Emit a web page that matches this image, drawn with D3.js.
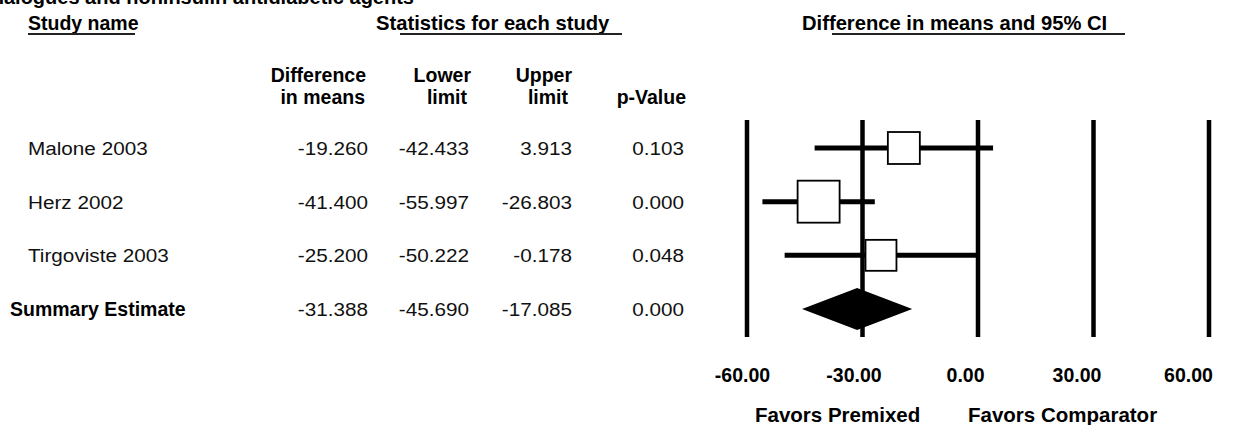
<!DOCTYPE html>
<html>
<head>
<meta charset="utf-8">
<script src="https://cdn.jsdelivr.net/npm/d3@7"></script>
<style>
  html, body { margin: 0; padding: 0; background: #fff; }
  svg { display: block; }
  text { font-family: "Liberation Sans", Arial, Helvetica, sans-serif; fill: #111; }
</style>
</head>
<body>
<svg id="chart" width="1241" height="425"></svg>
<script>
// ---- Data ----
const studies     = ["Malone 2003", "Herz 2002", "Tirgoviste 2003"];
const summaryName = "Summary Estimate";
const estimates   = [-19.260, -41.400, -25.200];
const lowers      = [-42.433, -55.997, -50.222];
const uppers      = [3.913, -26.803, -0.178];
const pValues     = [0.103, 0.000, 0.048];
const weights     = [27.3, 47.1, 25.6];       // relative weights (square areas), estimated
const summaryVals = { est: -31.388, lo: -45.690, hi: -17.085, p: 0.000 };
const tickValues  = [-60, -30, 0, 30, 60];
const colHeads    = [["Difference", "in means"], ["Lower", "limit"], ["Upper", "limit"], ["", "p-Value"]];

// ---- Setup ----
const svg = d3.select("#chart");
const hy = f => (v => f(v).replace("\u2212", "-"));
const fmt3 = hy(d3.format(".3f"));
const fmt2 = hy(d3.format(".2f"));
const SX = 1.09; // horizontal stretch of regular text

const rows = studies.concat([summaryName]);
const y = d3.scalePoint().domain(rows).range([148, 309]);
const x = d3.scaleLinear().domain([-60, 60]).range([747, 1209]);
const xLabel = d3.scaleLinear().domain([-60, 60]).range([742, 1188]);
const size = d3.scaleSqrt().domain([0, d3.max(weights)]).range([0, 42]);

function reg(g, str, px, py, anchor) {
  return g.append("text")
    .attr("transform", `translate(${px},${py}) scale(${SX},1)`)
    .attr("text-anchor", anchor || "start")
    .style("font-size", "19px")
    .text(str);
}
function bold(g, str, px, py, anchor, fs) {
  return g.append("text")
    .attr("x", px).attr("y", py)
    .attr("text-anchor", anchor || "start")
    .style("font-size", (fs || 19.5) + "px")
    .style("font-weight", "bold")
    .style("fill", "#000")
    .text(str);
}

// ---- Title fragment (cut off at top, as in the source image) ----
bold(svg, "Premixed insulin analogues and noninsulin antidiabetic agents", 414, 4, "end", 20);

// ---- Section headers ----
const hdr = svg.append("g");
bold(hdr, "Study name", 28, 30, "start", 19.5);
bold(hdr, "Statistics for each study", 376, 30, "start", 20.2);
bold(hdr, "Difference in means and 95% CI", 802, 30, "start", 20.2);
const underlines = [[28, 135], [400, 622], [832, 1125]];
hdr.selectAll("line.ul").data(underlines).join("line")
  .attr("class", "ul")
  .attr("x1", d => d[0]).attr("x2", d => d[1])
  .attr("y1", 34).attr("y2", 34)
  .attr("stroke", "#222").attr("stroke-width", 2);

// ---- Column headers ----
const colX = [366, 471, 572, 686];
colHeads.forEach((h, i) => {
  if (h[0]) bold(hdr, h[0], colX[i], 82, "end", 19.5);
  bold(hdr, h[1], colX[i] - (i === 0 ? 1 : i === 3 ? 0 : 4), 104, "end", 19.5);
});

// ---- Table rows ----
const valX = [368, 469, 572, 684];
const tbl = svg.append("g");
studies.forEach((s, i) => {
  const by = y(s) + 7;
  reg(tbl, s, 28, by);
  reg(tbl, fmt3(estimates[i]), valX[0], by, "end");
  reg(tbl, fmt3(lowers[i]), valX[1], by, "end");
  reg(tbl, fmt3(uppers[i]), valX[2], by, "end");
  reg(tbl, fmt3(pValues[i]), valX[3], by, "end");
});
{
  const by = y(summaryName) + 7;
  bold(tbl, summaryName, 10, by, "start", 19.5);
  reg(tbl, fmt3(summaryVals.est), valX[0], by, "end");
  reg(tbl, fmt3(summaryVals.lo), valX[1], by, "end");
  reg(tbl, fmt3(summaryVals.hi), valX[2], by, "end");
  reg(tbl, fmt3(summaryVals.p), valX[3], by, "end");
}

// ---- Forest plot ----
const plot = svg.append("g");
plot.selectAll("line.grid").data(tickValues).join("line")
  .attr("class", "grid")
  .attr("x1", d => x(d)).attr("x2", d => x(d))
  .attr("y1", 120).attr("y2", 337)
  .attr("stroke", "#000").attr("stroke-width", 4.5);

const studyData = studies.map((s, i) => ({ name: s, est: estimates[i], lo: lowers[i], hi: uppers[i], w: weights[i] }));

plot.selectAll("line.ci").data(studyData).join("line")
  .attr("class", "ci")
  .attr("x1", d => x(d.lo)).attr("x2", d => x(d.hi))
  .attr("y1", d => y(d.name)).attr("y2", d => y(d.name))
  .attr("stroke", "#000").attr("stroke-width", 5);

plot.selectAll("rect.pt").data(studyData).join("rect")
  .attr("class", "pt")
  .attr("x", d => x(d.est) - size(d.w) / 2)
  .attr("y", d => y(d.name) - size(d.w) / 2)
  .attr("width", d => size(d.w))
  .attr("height", d => size(d.w))
  .attr("fill", "#fff").attr("stroke", "#000").attr("stroke-width", 1.8);

const sy = y(summaryName);
plot.append("path")
  .attr("d", `M${x(summaryVals.lo)},${sy} L${x(summaryVals.est)},${sy - 21} L${x(summaryVals.hi)},${sy} L${x(summaryVals.est)},${sy + 21} Z`)
  .attr("fill", "#000");

// ---- Axis labels ----
const axis = d3.axisBottom(xLabel).tickValues(tickValues).tickSize(0).tickPadding(0).tickFormat(fmt2);
const ag = svg.append("g").attr("transform", "translate(0,368)").call(axis);
ag.select(".domain").remove();
ag.selectAll("text")
  .attr("y", 0).attr("dy", "0.71em")
  .style("font-family", "'Liberation Sans', Arial, sans-serif")
  .style("font-size", "19.5px").style("font-weight", "bold").style("fill", "#000");

bold(svg, "Favors Premixed", 755, 422, "start", 20.5);
bold(svg, "Favors Comparator", 968, 422, "start", 20.5);
</script>
</body>
</html>
